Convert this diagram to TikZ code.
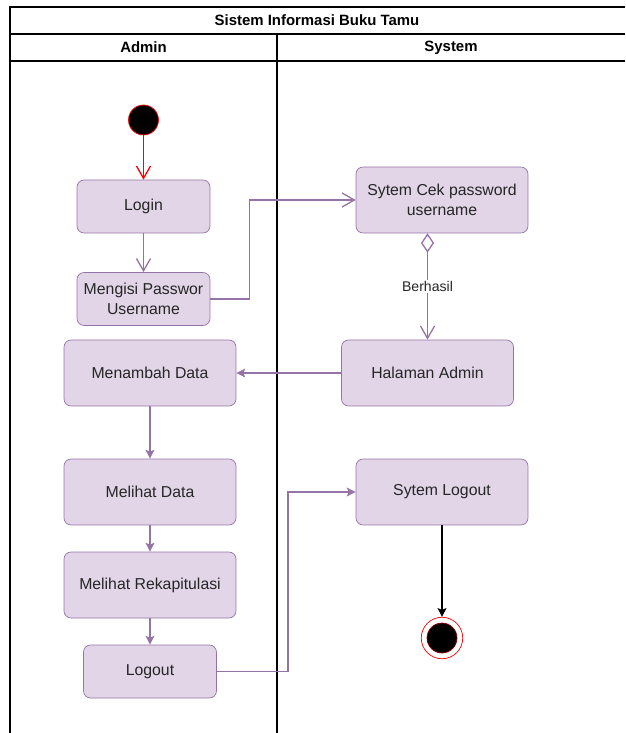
\documentclass[tikz,border=0pt]{standalone}
\usepackage{fontspec}
\setmainfont{Liberation Sans}
\usetikzlibrary{arrows.meta}
\definecolor{actfill}{HTML}{E1D5E7}
\definecolor{actline}{HTML}{9673A6}
\tikzset{
  lane/.style={line width=1pt,black},
  act/.style={draw=actline,fill=actfill,rounded corners=4pt,align=center,
    inner sep=1pt,text=black!85,font=\fontsize{9}{11}\selectfont},
  smallact/.style={act,minimum width=2.66cm,minimum height=1.06cm},
  bigact/.style={act,minimum width=3.44cm,minimum height=1.32cm},
  flow/.style={actline,line width=0.75pt},
  openflow/.style={flow,-{Straight Barb[length=7pt,width=8pt]}},
  fillflow/.style={flow,-{Stealth[length=5pt,width=5pt,inset=1pt]}},
}
\begin{document}
\begin{tikzpicture}[x=0.02cm,y=-0.02cm]
  \useasboundingbox (0,0) rectangle (625,733);
  % swimlanes
  \draw[lane] (10,733) -- (10,7) -- (625,7);
  \draw[lane] (10,34) -- (625,34);
  \draw[lane] (10,61) -- (625,61);
  \draw[lane] (277,34) -- (277,733);
  \node[font=\bfseries\fontsize{8.5}{10}\selectfont] (pool) at (317,20.5) {Sistem Informasi Buku Tamu};
  \node[font=\bfseries\fontsize{8.5}{10}\selectfont] (hadmin) at (143.5,47.5) {Admin};
  \node[font=\bfseries\fontsize{8.5}{10}\selectfont] (hsystem) at (451,47.5) {System};
  % admin lane
  \node[circle,draw=red,fill=black,minimum size=0.6cm,inner sep=0pt] (start) at (143.5,120) {};
  \node[smallact] (login) at (143.5,206.5) {Login};
  \node[smallact] (isi) at (143.5,299) {Mengisi Passwor\\Username};
  \node[bigact] (tambah) at (150,373) {Menambah Data};
  \node[bigact] (lihat) at (150,492) {Melihat Data};
  \node[bigact] (rekap) at (150,585) {Melihat Rekapitulasi};
  \node[smallact] (logout) at (150,671.5) {Logout};
  % system lane
  \node[bigact] (cek) at (442,200) {Sytem Cek password\\username};
  \node[bigact] (halaman) at (427.5,373) {Halaman Admin};
  \node[bigact] (syslogout) at (442,492) {Sytem Logout};
  \node[circle,draw=red,fill=white,minimum size=0.83cm,inner sep=0pt] (end) at (442,638) {};
  \node[circle,draw=red!60!black,fill=black,minimum size=0.6cm,inner sep=0pt] (endin) at (end) {};
  % flows
  \draw[red,line width=0.75pt,-{Straight Barb[length=7pt,width=8pt]}] (start) -- (login);
  \draw[openflow] (login) -- (isi);
  \draw[openflow] (isi.east) -- ++(39,0) |- (cek.west);
  \draw[flow,{Diamond[open,length=11pt,width=7.5pt]}-{Straight Barb[length=7pt,width=8pt]}]
    (halaman.north |- cek.south) -- node[fill=white,inner sep=1pt,text=black!85,font=\fontsize{8}{10}\selectfont] {Berhasil} (halaman.north);
  \draw[fillflow] (halaman) -- (tambah);
  \draw[fillflow] (tambah) -- (lihat);
  \draw[fillflow] (lihat) -- (rekap);
  \draw[fillflow] (rekap) -- (logout);
  \draw[fillflow] (logout.east) -- ++(71,0) |- (syslogout.west);
  \draw[line width=0.9pt,-{Stealth[length=5pt,width=5pt,inset=1pt]}] (syslogout) -- (end);
\end{tikzpicture}
\end{document}
